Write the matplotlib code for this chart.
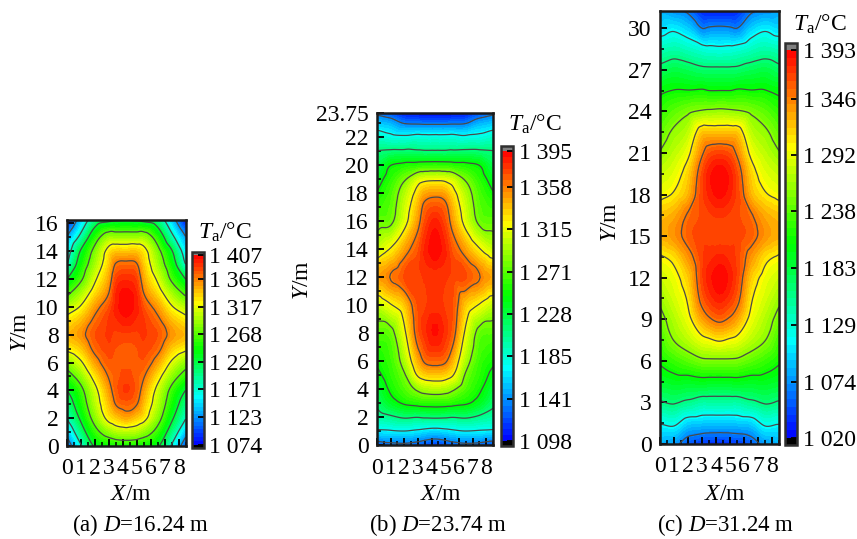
import matplotlib
matplotlib.use("Agg")
import matplotlib.pyplot as plt
import matplotlib.tri as mtri
from matplotlib.colors import LinearSegmentedColormap
from matplotlib.ticker import MultipleLocator
import numpy as np

plt.rcParams['font.family'] = ['Liberation Serif', 'DejaVu Serif']
plt.rcParams['mathtext.fontset'] = 'custom'
plt.rcParams['mathtext.rm'] = 'Liberation Serif'
plt.rcParams['mathtext.it'] = 'Liberation Serif:italic'
plt.rcParams['font.size'] = 17

W, H = 857, 539

# half width columns, the field is mirrored about x = 4.25
x_half = [0, 1, 2, 3, 3.5, 4.25]

# panel (a)
y_a = [0, 1, 2, 3, 4, 5, 6, 7, 8, 9, 10, 11, 12, 13, 14, 15, 16.24]
t_a = [
    [1100, 1137, 1173, 1197, 1220, 1252, 1285, 1323, 1345, 1328, 1298, 1260, 1220, 1173, 1151, 1125, 1080],
    [1167, 1200, 1227, 1245, 1259, 1285, 1313, 1340, 1358, 1345, 1320, 1293, 1263, 1243, 1224, 1183, 1140],
    [1225, 1255, 1282, 1298, 1308, 1329, 1353, 1372, 1380, 1371, 1355, 1332, 1312, 1293, 1279, 1250, 1197],
    [1240, 1285, 1327, 1343, 1355, 1367, 1378, 1385, 1388, 1388, 1380, 1365, 1352, 1340, 1328, 1290, 1212],
    [1243, 1296, 1338, 1366, 1376, 1376, 1378, 1380, 1385, 1392, 1396, 1393, 1384, 1368, 1340, 1290, 1216],
    [1245, 1300, 1350, 1375, 1388, 1383, 1378, 1378, 1385, 1398, 1406, 1403, 1392, 1373, 1340, 1290, 1218],
]
ticks_a = [1074, 1123, 1171, 1220, 1268, 1317, 1365, 1407]
lines_a = [1123, 1171, 1220, 1268, 1317, 1365]

# panel (b)
y_b = [0, 1, 2, 3, 4, 5, 6, 8, 10, 12, 14, 16, 17, 18, 19, 20, 21, 22, 23, 23.75]
t_b = [
    [1122, 1168, 1197, 1215, 1228, 1240, 1250, 1270, 1302, 1345, 1304, 1273, 1262, 1248, 1236, 1224, 1210, 1187, 1157, 1130],
    [1128, 1170, 1205, 1236, 1250, 1258, 1263, 1275, 1318, 1358, 1322, 1278, 1272, 1267, 1258, 1246, 1213, 1180, 1150, 1120],
    [1130, 1172, 1212, 1249, 1268, 1280, 1295, 1315, 1335, 1372, 1347, 1311, 1305, 1297, 1280, 1253, 1214, 1178, 1135, 1105],
    [1125, 1168, 1210, 1255, 1288, 1323, 1343, 1368, 1372, 1375, 1370, 1350, 1342, 1330, 1308, 1257, 1213, 1182, 1133, 1101],
    [1120, 1165, 1212, 1257, 1295, 1332, 1360, 1380, 1376, 1378, 1384, 1372, 1364, 1345, 1314, 1259, 1212, 1181, 1132, 1100],
    [1115, 1162, 1213, 1258, 1298, 1335, 1365, 1390, 1380, 1380, 1394, 1385, 1372, 1350, 1316, 1260, 1212, 1181, 1132, 1100],
]
ticks_b = [1098, 1141, 1185, 1228, 1271, 1315, 1358, 1395]
lines_b = [1135, 1172, 1209, 1246, 1283, 1320, 1357]

# panel (c)
y_c = [0, 1.5, 3, 4.5, 6, 7.5, 9, 10.5, 12, 13.5, 15, 16.5, 18, 19.5, 21, 22.5, 24, 25.5, 27, 28.5, 30, 31.24]
t_c = [
    [1085, 1116, 1158, 1190, 1212, 1228, 1245, 1262, 1280, 1299, 1327, 1320, 1295, 1278, 1257, 1240, 1222, 1202, 1170, 1137, 1100, 1082],
    [1075, 1120, 1164, 1196, 1226, 1256, 1270, 1284, 1294, 1310, 1338, 1330, 1305, 1290, 1275, 1260, 1238, 1209, 1180, 1143, 1108, 1072],
    [1050, 1098, 1155, 1195, 1238, 1273, 1294, 1306, 1318, 1338, 1358, 1352, 1326, 1315, 1296, 1275, 1250, 1209, 1175, 1135, 1095, 1062],
    [1040, 1094, 1146, 1198, 1249, 1293, 1332, 1358, 1368, 1368, 1368, 1365, 1368, 1365, 1345, 1318, 1258, 1211, 1168, 1125, 1067, 1035],
    [1037, 1093, 1146, 1197, 1250, 1298, 1345, 1372, 1382, 1375, 1367, 1369, 1380, 1382, 1362, 1320, 1260, 1208, 1167, 1122, 1070, 1030],
    [1035, 1093, 1146, 1197, 1250, 1305, 1355, 1382, 1392, 1380, 1366, 1372, 1388, 1392, 1368, 1320, 1262, 1208, 1167, 1120, 1072, 1028],
]
ticks_c = [1020, 1074, 1129, 1183, 1238, 1292, 1346, 1393]
lines_c = [1067, 1114, 1161, 1208, 1255, 1302, 1349]

cmap = LinearSegmentedColormap.from_list(
    "rainbow5", ["#0000ff", "#00ffff", "#00ff00", "#ffff00", "#ff0000"], N=256)
cmap.set_under("#000000")
cmap.set_over("#808080")


def px_axes(fig, left, right, top, bottom):
    return fig.add_axes([left / W, 1 - bottom / H, (right - left) / W, (bottom - top) / H])


def fmt(v):
    s = str(v)
    return s[0] + " " + s[1:]


def draw_panel(fig, box, cbox, ys, temps, ticks, lines, ymajor, yticks, yticklabels,
               ylabel_xy, xlabel_xy, ta_xy, caption, caption_x):
    ax = px_axes(fig, *box)
    half = np.array(temps, dtype=float).T
    field = np.hstack([half, half[:, -2::-1]])
    x_full = np.r_[x_half, 8.5 - np.array(x_half[-2::-1])]
    xx, yy = np.meshgrid(x_full, ys)
    tri = mtri.Triangulation(xx.ravel(), yy.ravel())
    interp = mtri.CubicTriInterpolator(tri, field.ravel(), kind="geom")
    fine_tri, fine_z = mtri.UniformTriRefiner(tri).refine_field(field.ravel(), triinterpolator=interp, subdiv=3)
    fine_z = np.clip(fine_z, ticks[0] + 0.5, ticks[-1] - 0.5)

    levels = np.linspace(ticks[0], ticks[-1], 51)
    cf = ax.tricontourf(fine_tri, fine_z, levels=levels, cmap=cmap, extend="both")
    ax.tricontour(fine_tri, fine_z, levels=lines, colors="#4a4a4a", linewidths=0.9)

    ax.set_xlim(0, 8.5)
    ax.set_ylim(0, ys[-1])
    ax.set_xticks(range(9))
    ax.xaxis.set_minor_locator(MultipleLocator(0.5))
    ax.yaxis.set_minor_locator(MultipleLocator(ymajor / 2))
    ax.set_yticks(yticks)
    ax.set_yticklabels(yticklabels)
    ax.tick_params(which="major", direction="in", length=5, width=1.3, labelsize=17, pad=6, color="black")
    ax.tick_params(which="minor", direction="in", length=3, width=1.1, color="black")
    ax.tick_params(axis="x", pad=9)
    for s in ax.spines.values():
        s.set_linewidth(1.8)
        s.set_color("#1a1a1a")

    cax = px_axes(fig, *cbox)
    cb = fig.colorbar(cf, cax=cax, extend="both", extendfrac=0.018, extendrect=True, drawedges=False)
    cb.set_ticks(ticks)
    cb.set_ticklabels([fmt(t) for t in ticks])
    cb.minorticks_off()
    cax.tick_params(direction="in", length=4, width=1.3, labelsize=17, pad=4, color="black", right=True)
    cb.outline.set_linewidth(1.8)
    cb.outline.set_edgecolor("#303030")

    fig.text(ylabel_xy[0] / W, 1 - ylabel_xy[1] / H, r"$\mathit{Y}$/m", rotation=90,
             ha="center", va="center", fontsize=17)
    fig.text(xlabel_xy[0] / W, 1 - xlabel_xy[1] / H, r"$\mathit{X}$/m",
             ha="center", va="center", fontsize=17)
    fig.text(ta_xy[0] / W, 1 - ta_xy[1] / H, r"$\mathit{T}_{\mathrm{a}}$/°C",
             ha="center", va="center", fontsize=17)
    fig.text(caption_x / W, 1 - (xlabel_xy[1] + 30) / H, caption,
             ha="center", va="center", fontsize=16.5)


fig = plt.figure(figsize=(W / 100, H / 100), dpi=100)

draw_panel(fig, (67, 185.5, 220, 446), (191.5, 203.5, 252, 448), y_a, t_a, ticks_a, lines_a, 2,
           list(range(0, 17, 2)), [str(v) for v in range(0, 17, 2)],
           (20, 332), (131, 495), (225, 232), r"(a) $\mathit{D}$=16.24 m", 141)
draw_panel(fig, (377, 493, 113, 445), (501, 513, 146, 446), y_b, t_b, ticks_b, lines_b, 2,
           list(range(0, 23, 2)) + [23.75], [str(v) for v in range(0, 23, 2)] + ["23.75"],
           (303, 280), (441, 495), (535, 124), r"(b) $\mathit{D}$=23.74 m", 438)
draw_panel(fig, (660, 779, 11, 444), (785, 797, 43, 445), y_c, t_c, ticks_c, lines_c, 3,
           list(range(0, 31, 3)), [str(v) for v in range(0, 31, 3)],
           (611, 222), (725, 495), (820, 24), r"(c) $\mathit{D}$=31.24 m", 726)

fig.savefig("out.png", dpi=100)
